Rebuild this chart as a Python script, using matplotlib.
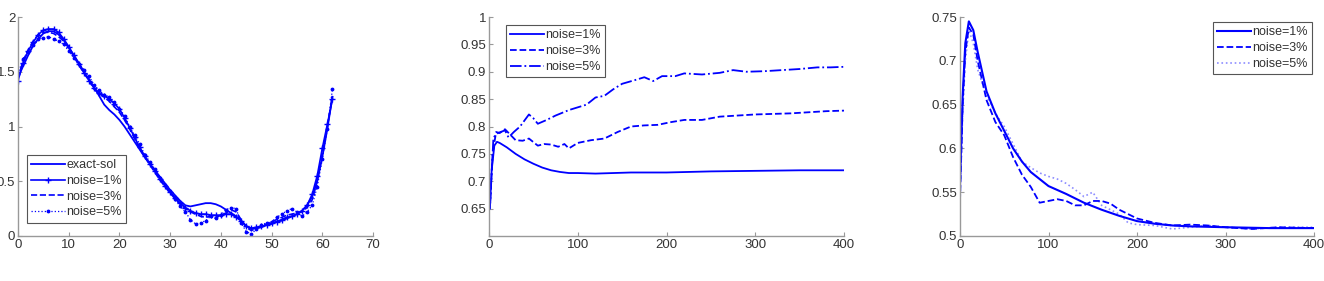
import matplotlib
matplotlib.use('Agg')
import matplotlib.pyplot as plt

plt.rcParams['font.family'] = ['Liberation Sans', 'DejaVu Sans']

# panel 1: reconstruction on [0, 62]
x1 = list(range(63))
exact = [1.45, 1.55, 1.65, 1.74, 1.80, 1.85, 1.87, 1.87, 1.84, 1.79, 1.72, 1.65, 1.58, 1.50,
         1.43, 1.36, 1.28, 1.20, 1.15, 1.11, 1.06, 1.00, 0.93, 0.86, 0.79, 0.72, 0.66, 0.60,
         0.54, 0.48, 0.42, 0.37, 0.32, 0.28, 0.27, 0.28, 0.29, 0.30, 0.30, 0.29, 0.27, 0.24,
         0.21, 0.18, 0.14, 0.09, 0.07, 0.07, 0.08, 0.10, 0.11, 0.13, 0.14, 0.16, 0.18, 0.20,
         0.23, 0.28, 0.36, 0.50, 0.72, 0.98, 1.27]
rec1 = [1.42, 1.58, 1.69, 1.77, 1.84, 1.88, 1.89, 1.89, 1.86, 1.80, 1.73, 1.65, 1.57, 1.49,
        1.42, 1.35, 1.31, 1.28, 1.25, 1.21, 1.16, 1.08, 0.99, 0.90, 0.81, 0.73, 0.66, 0.59,
        0.52, 0.46, 0.40, 0.35, 0.30, 0.26, 0.23, 0.21, 0.20, 0.20, 0.19, 0.19, 0.19, 0.20,
        0.20, 0.17, 0.14, 0.09, 0.07, 0.08, 0.09, 0.10, 0.12, 0.13, 0.15, 0.17, 0.18, 0.20,
        0.23, 0.28, 0.38, 0.55, 0.80, 1.02, 1.25]
rec3 = [1.44, 1.60, 1.70, 1.78, 1.84, 1.86, 1.86, 1.85, 1.82, 1.78, 1.72, 1.64, 1.56, 1.49,
        1.42, 1.34, 1.30, 1.27, 1.23, 1.18, 1.13, 1.06, 0.98, 0.89, 0.80, 0.72, 0.65, 0.58,
        0.51, 0.45, 0.39, 0.34, 0.29, 0.25, 0.22, 0.20, 0.18, 0.17, 0.18, 0.17, 0.19, 0.21,
        0.24, 0.22, 0.15, 0.08, 0.05, 0.07, 0.09, 0.11, 0.13, 0.15, 0.17, 0.19, 0.20, 0.21,
        0.22, 0.26, 0.33, 0.50, 0.76, 1.00, 1.28]
rec5 = [1.48, 1.62, 1.68, 1.74, 1.80, 1.81, 1.82, 1.80, 1.78, 1.75, 1.69, 1.63, 1.57, 1.52,
        1.46, 1.38, 1.33, 1.29, 1.27, 1.22, 1.16, 1.10, 1.00, 0.92, 0.84, 0.74, 0.68, 0.61,
        0.53, 0.47, 0.41, 0.34, 0.27, 0.22, 0.15, 0.11, 0.12, 0.14, 0.18, 0.16, 0.19, 0.24,
        0.26, 0.25, 0.12, 0.04, 0.02, 0.06, 0.10, 0.12, 0.13, 0.17, 0.20, 0.23, 0.25, 0.22,
        0.18, 0.22, 0.28, 0.45, 0.70, 0.98, 1.34]

# panel 2
x2_n1 = [1, 3, 6, 9, 12, 20, 30, 40, 50, 60, 70, 80, 90, 100, 120, 140, 160, 200, 250, 300, 350, 400]
y2_n1 = [0.65, 0.72, 0.765, 0.772, 0.77, 0.762, 0.75, 0.74, 0.732, 0.725, 0.72, 0.717, 0.715,
         0.715, 0.714, 0.715, 0.716, 0.716, 0.718, 0.719, 0.72, 0.72]
x2_n3 = [1, 4, 8, 12, 18, 24, 30, 38, 45, 55, 62, 70, 78, 85, 90, 100, 115, 130, 145, 160, 175,
         190, 205, 220, 240, 260, 280, 300, 320, 340, 360, 380, 400]
y2_n3 = [0.65, 0.75, 0.79, 0.788, 0.795, 0.785, 0.775, 0.774, 0.778, 0.765, 0.768, 0.767, 0.763,
         0.768, 0.76, 0.77, 0.775, 0.778, 0.79, 0.80, 0.802, 0.803, 0.808, 0.812, 0.812, 0.818,
         0.82, 0.822, 0.823, 0.824, 0.826, 0.828, 0.829]
x2_n5 = [1, 5, 10, 18, 22, 28, 35, 45, 50, 55, 65, 75, 90, 100, 110, 120, 130, 140, 150, 165,
         175, 185, 195, 210, 220, 240, 260, 275, 290, 310, 330, 350, 370, 385, 400]
y2_n5 = [0.65, 0.78, 0.788, 0.793, 0.78, 0.79, 0.80, 0.822, 0.815, 0.805, 0.812, 0.82, 0.83,
         0.835, 0.84, 0.853, 0.856, 0.868, 0.878, 0.885, 0.89, 0.883, 0.892, 0.892, 0.897,
         0.895, 0.898, 0.903, 0.90, 0.901, 0.903, 0.905, 0.908, 0.908, 0.909]

# panel 3
x3_n1 = [0, 3, 6, 10, 15, 20, 30, 40, 50, 60, 70, 80, 90, 100, 120, 140, 160, 180, 200, 220,
         240, 260, 300, 350, 400]
y3_n1 = [0.56, 0.66, 0.72, 0.745, 0.735, 0.71, 0.665, 0.64, 0.62, 0.60, 0.585, 0.573, 0.565,
         0.557, 0.548, 0.538, 0.53, 0.523, 0.517, 0.514, 0.512, 0.511, 0.51, 0.509, 0.509]
x3_n3 = [0, 3, 6, 10, 15, 20, 30, 40, 50, 60, 70, 80, 90, 100, 110, 120, 130, 140, 150, 160,
         170, 180, 190, 200, 220, 240, 260, 280, 300, 330, 360, 400]
y3_n3 = [0.54, 0.65, 0.71, 0.738, 0.73, 0.70, 0.655, 0.63, 0.615, 0.59, 0.57, 0.556, 0.538,
         0.54, 0.542, 0.54, 0.535, 0.535, 0.54, 0.54, 0.537, 0.53, 0.525, 0.52, 0.515, 0.512,
         0.513, 0.512, 0.51, 0.508, 0.51, 0.509]
x3_n5 = [0, 3, 6, 10, 15, 20, 30, 40, 50, 60, 70, 80, 90, 100, 110, 120, 130, 140, 150, 160,
         170, 180, 190, 200, 220, 240, 260, 280, 300, 330, 360, 400]
y3_n5 = [0.545, 0.64, 0.70, 0.735, 0.72, 0.69, 0.66, 0.64, 0.625, 0.605, 0.585, 0.578, 0.572,
         0.568, 0.565, 0.56, 0.553, 0.545, 0.55, 0.535, 0.53, 0.525, 0.515, 0.513, 0.512,
         0.508, 0.51, 0.512, 0.51, 0.508, 0.51, 0.51]

blue = '#0000ff'
W, H = 1324, 281


def style(ax, xlim, ylim, xticks, yticks, ylabels=None):
    ax.set_xlim(*xlim)
    ax.set_ylim(*ylim)
    ax.set_xticks(xticks)
    ax.set_yticks(yticks)
    if ylabels is not None:
        ax.set_yticklabels(ylabels)
    for s in ('top', 'right'):
        ax.spines[s].set_visible(False)
    for s in ('left', 'bottom'):
        ax.spines[s].set_color('#999999')
        ax.spines[s].set_linewidth(1.0)
    ax.tick_params(direction='in', length=3, colors='#999999', labelcolor='#333333',
                   labelsize=9.5, pad=2)


def legend(ax, loc, anchor):
    leg = ax.legend(loc=loc, bbox_to_anchor=anchor, fontsize=9, handlelength=2.7,
                    handletextpad=0.1, borderpad=0.35, labelspacing=0.3, fancybox=False,
                    framealpha=1, borderaxespad=0)
    leg.get_frame().set_edgecolor('#555555')
    leg.get_frame().set_linewidth(0.8)
    for t in leg.get_texts():
        t.set_color('#333333')


fig = plt.figure(figsize=(W / 100, H / 100), dpi=100)

ax1 = fig.add_axes([18 / W, 45 / H, 355 / W, 219 / H])
ax1.plot(x1, exact, color=blue, lw=1.3, label='exact-sol')
ax1.plot(x1, rec1, color=blue, lw=1.2, marker='+', ms=4, label='noise=1%')
ax1.plot(x1, rec3, color=blue, lw=1.2, ls='--', label='noise=3%')
ax1.plot(x1, rec5, color=blue, lw=0.9, ls=':', marker='.', ms=3.5, label='noise=5%')
style(ax1, (0, 70), (0, 2), range(0, 71, 10), [0, 0.5, 1, 1.5, 2],
      ['0', '0.5', '1', '1.5', '2'])
legend(ax1, 'lower left', (0.025, 0.06))

ax2 = fig.add_axes([489 / W, 45 / H, 355 / W, 219 / H])
ax2.plot(x2_n1, y2_n1, color=blue, lw=1.3, label='noise=1%')
ax2.plot(x2_n3, y2_n3, color=blue, lw=1.3, ls='--', label='noise=3%')
ax2.plot(x2_n5, y2_n5, color=blue, lw=1.3, ls='-.', label='noise=5%')
style(ax2, (0, 400), (0.6, 1), range(0, 401, 100),
      [0.65, 0.7, 0.75, 0.8, 0.85, 0.9, 0.95, 1],
      ['0.65', '0.7', '0.75', '0.8', '0.85', '0.9', '0.95', '1'])
legend(ax2, 'upper left', (0.048, 0.963))

ax3 = fig.add_axes([960 / W, 45 / H, 354 / W, 219 / H])
ax3.plot(x3_n1, y3_n1, color=blue, lw=1.5, label='noise=1%')
ax3.plot(x3_n3, y3_n3, color=blue, lw=1.3, ls='--', label='noise=3%')
ax3.plot(x3_n5, y3_n5, color=blue, lw=1.2, ls=':', alpha=0.45, label='noise=5%')
style(ax3, (0, 400), (0.5, 0.75), range(0, 401, 100),
      [0.5, 0.55, 0.6, 0.65, 0.7, 0.75],
      ['0.5', '0.55', '0.6', '0.65', '0.7', '0.75'])
legend(ax3, 'upper right', (0.994, 0.977))

fig.savefig('out.png', dpi=100)
